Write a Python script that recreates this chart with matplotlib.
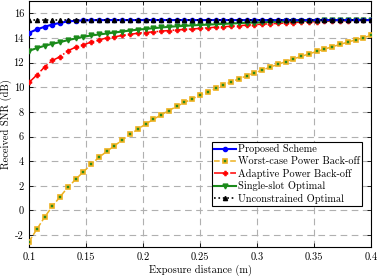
import numpy as np
import matplotlib
matplotlib.use("Agg")
import matplotlib.pyplot as plt

plt.rcParams['font.family'] = 'serif'
plt.rcParams['font.serif'] = ['cmr10', 'DejaVu Serif']
plt.rcParams['mathtext.fontset'] = 'cm'
plt.rcParams['axes.unicode_minus'] = False
plt.rcParams['axes.formatter.use_mathtext'] = False

distance = np.linspace(0.1, 0.4, 45)

proposed = [14.42, 14.70, 14.91, 15.10, 15.23, 15.35, 15.40, 15.43, 15.45] + [15.46] * 36

worst_case = [-2.54, -1.54, -0.56, 0.33, 1.11, 1.87, 2.52, 3.14, 3.74, 4.31,
              4.79, 5.25, 5.72, 6.17, 6.60, 7.01, 7.40, 7.76, 8.11, 8.45,
              8.77, 9.06, 9.36, 9.63, 9.91, 10.18, 10.44, 10.69, 10.93, 11.17,
              11.40, 11.63, 11.86, 12.08, 12.30, 12.51, 12.71, 12.91, 13.10, 13.29,
              13.48, 13.67, 13.85, 14.03, 14.21]

adaptive = [10.39, 10.99, 11.64, 12.18, 12.48, 12.96, 13.26, 13.45, 13.67, 13.83,
            14.02, 14.10, 14.21, 14.29, 14.40, 14.45, 14.50, 14.56, 14.61, 14.66,
            14.70, 14.74, 14.78, 14.83, 14.88, 14.92, 14.96, 15.00, 15.05, 15.09,
            15.13, 15.16, 15.19, 15.22, 15.26, 15.29, 15.31, 15.34, 15.36, 15.38,
            15.40, 15.41, 15.43, 15.44, 15.45]

single_slot = [12.96, 13.18, 13.37, 13.53, 13.67, 13.83, 13.97, 14.10, 14.21, 14.29,
               14.37, 14.45, 14.53, 14.61, 14.68, 14.74, 14.80, 14.86, 14.91, 14.96,
               14.99, 15.03, 15.06, 15.09, 15.12, 15.15, 15.18, 15.21, 15.24, 15.26,
               15.28, 15.31, 15.33, 15.35, 15.37, 15.39, 15.40, 15.42, 15.43, 15.44,
               15.45, 15.45, 15.46, 15.46, 15.46]

unconstrained = [15.49] * 45

labels = ['Proposed Scheme', 'Worst-case Power Back-off', 'Adaptive Power Back-off',
          'Single-slot Optimal', 'Unconstrained Optimal']

fig = plt.figure(figsize=(3.81, 2.77), dpi=100)
ax = fig.add_axes([0.076, 0.107, 0.898, 0.889])

ax.plot(distance, proposed, '-', color='#0000ff', lw=1.5, marker='o', ms=3,
        mfc='#0000ff', mec='#0000ff', label=labels[0], zorder=5)
ax.plot(distance, worst_case, '--', color='#EDB120', lw=1.1, marker='s', ms=3,
        mfc='#2a8a1a', mec='#EDB120', mew=1.2, label=labels[1], zorder=4)
ax.plot(distance, adaptive, '-.', color='#ff0000', lw=1.1, marker='P', ms=3.5,
        mfc='#ff0000', mec='#ff0000', mew=0.5, label=labels[2], zorder=3)
ax.plot(distance, single_slot, '-', color='#1a8a1a', lw=1.5, marker='v', ms=3.5,
        mfc='#1a8a1a', mec='#1a8a1a', label=labels[3], zorder=3)
ax.plot(distance, unconstrained, ':', color='black', lw=1.2, marker='^', ms=3,
        mfc='black', mec='black', label=labels[4], zorder=6)

ax.set_xlim(0.1, 0.4)
ax.set_ylim(-3, 17)
ax.set_xticks([0.1, 0.15, 0.2, 0.25, 0.3, 0.35, 0.4])
ax.set_xticklabels(['0.1', '0.15', '0.2', '0.25', '0.3', '0.35', '0.4'])
ax.set_yticks(range(-2, 17, 2))
ax.tick_params(direction='in', top=True, right=True, labelsize=7.5, length=3, width=0.6)
ax.grid(True, linestyle=(0, (6, 4)), color='#b0b0b0', lw=0.8)
ax.set_axisbelow(True)
for s in ax.spines.values():
    s.set_linewidth(0.8)

ax.set_xlabel('Exposure distance (m)', fontsize=7.5, labelpad=2)
ax.set_ylabel('Received SNR (dB)', fontsize=7.5)
ax.yaxis.set_label_coords(-0.05, 0.5)

leg = ax.legend(loc='lower right', bbox_to_anchor=(0.974, 0.168), fontsize=7.4,
                frameon=True, fancybox=False, edgecolor='black', framealpha=1,
                handlelength=2.1, handletextpad=0.25, borderpad=0.2, labelspacing=0.25,
                borderaxespad=0.0)
leg.get_frame().set_linewidth(0.8)

fig.savefig('out.png', dpi=100)
